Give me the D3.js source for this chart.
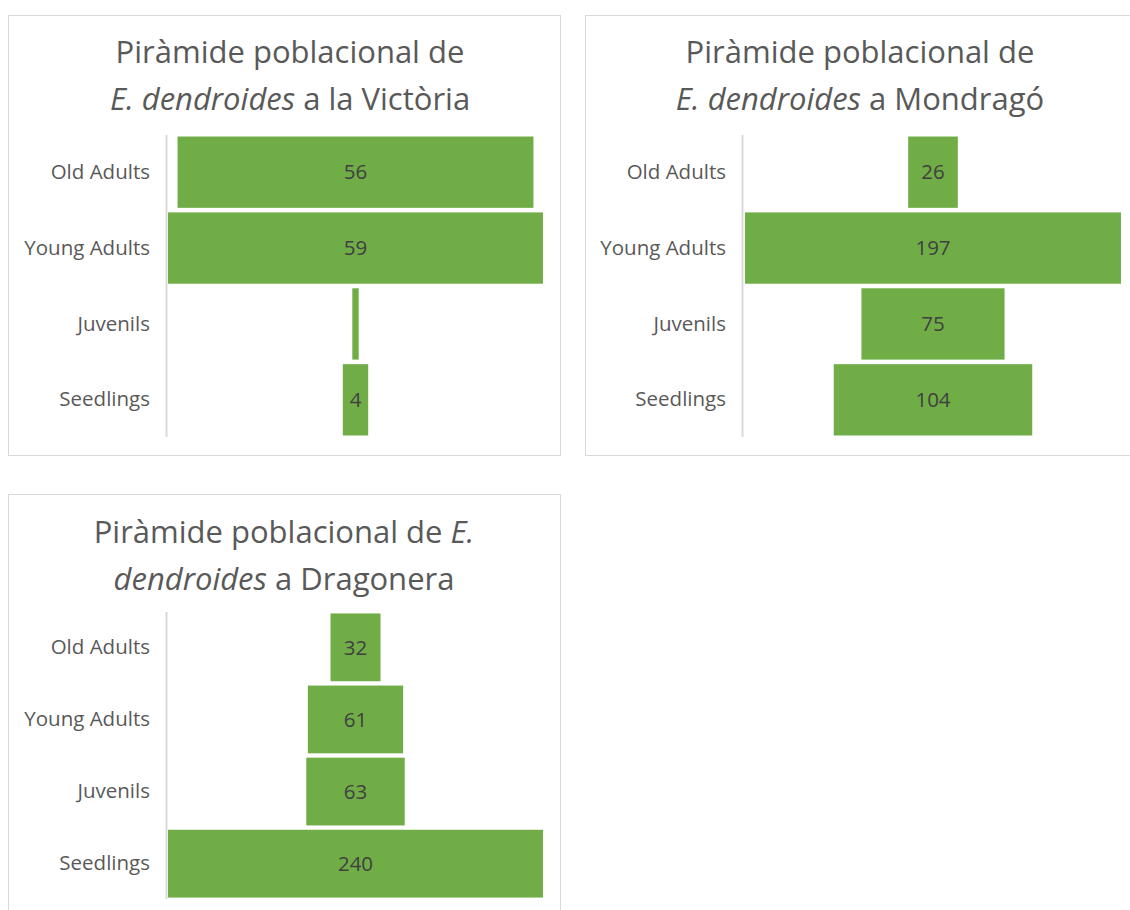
<!DOCTYPE html>
<html>
<head>
<meta charset="utf-8">
<script src="https://cdn.jsdelivr.net/npm/d3@7"></script>
<style>
  body { margin: 0; background: #fff; }
  svg { display: block; }
</style>
</head>
<body>
<div id="chart"></div>
<script>
// age classes, top to bottom
var categories = ["Old Adults", "Young Adults", "Juvenils", "Seedlings"];

// counts per site
var victoriaValues = [56, 59, 1, 4];
var mondragoValues = [26, 197, 75, 104];
var dragoneraValues = [32, 61, 63, 240];

// title lines: [text, italic] pieces per line
var victoriaTitle = [[["Piràmide poblacional de", false]], [["E. dendroides", true], [" a la Victòria", false]]];
var mondragoTitle = [[["Piràmide poblacional de", false]], [["E. dendroides", true], [" a Mondragó", false]]];
var dragoneraTitle = [[["Piràmide poblacional de ", false], ["E.", true]], [["dendroides", true], [" a Dragonera", false]]];

var barColor = "#70ad47";
var textColor = "#595959";
var font = "'Open Sans', sans-serif";

var svg = d3.select("#chart").append("svg")
    .attr("width", 1130)
    .attr("height", 910);

function Panel(box, title, values, plot) {
    var g = svg.append("g");

    g.append("rect")
        .attr("x", box.x + 0.5).attr("y", box.y + 0.5)
        .attr("width", box.w).attr("height", box.h)
        .style("fill", "#fff").style("stroke", "#d9d9d9").style("stroke-width", 1);

    var t = g.append("text")
        .attr("text-anchor", "middle")
        .style("font-family", font)
        .style("font-size", "31px")
        .style("fill", textColor);
    title.forEach(function (line, i) {
        line.forEach(function (piece, j) {
            var ts = t.append("tspan").text(piece[0])
                .style("font-style", piece[1] ? "italic" : "normal");
            if (j == 0) ts.attr("x", plot.titleX).attr("y", plot.titleY + i * 47);
        });
    });

    var rows = values.map(function (v, i) { return {cat: categories[i], value: v}; });

    var max = d3.max(values);
    var x = d3.scaleLinear().domain([-max / 2, max / 2]).range([plot.left, plot.right]);
    var y = d3.scaleBand().domain(categories).range([plot.top, plot.bottom])
        .paddingInner(0.06).paddingOuter(0.02);

    var axis = g.append("g")
        .attr("transform", "translate(" + plot.axisX + ",0)")
        .call(d3.axisLeft(y).tickSize(0).tickPadding(16));
    axis.select(".domain").attr("d", "M0.5," + plot.top + "V" + plot.bottom)
        .style("stroke", "#d9d9d9").style("stroke-width", 2);
    axis.selectAll("text")
        .style("font-family", font)
        .style("font-size", "20.5px")
        .style("fill", textColor);

    g.selectAll(".bar").data(rows).enter().append("rect")
        .attr("class", "bar")
        .attr("x", function (d) { return x(-d.value / 2); })
        .attr("y", function (d) { return y(d.cat); })
        .attr("width", function (d) { return x(d.value / 2) - x(-d.value / 2); })
        .attr("height", y.bandwidth())
        .style("fill", barColor);

    // labels only where the bar is wide enough
    var labelled = rows.filter(function (d) { return x(d.value / 2) - x(-d.value / 2) > 10; });
    g.selectAll(".lbl").data(labelled).enter().append("text")
        .attr("class", "lbl")
        .attr("x", x(0))
        .attr("y", function (d) { return y(d.cat) + y.bandwidth() / 2; })
        .attr("dy", "0.35em")
        .attr("text-anchor", "middle")
        .style("font-family", font)
        .style("font-size", "20.5px")
        .style("fill", "#404040")
        .text(function (d) { return d.value; });
}

Panel({x: 8, y: 15, w: 552, h: 440}, victoriaTitle, victoriaValues,
    {titleX: 290, titleY: 63, axisX: 166, left: 168, right: 543, top: 135, bottom: 437});
Panel({x: 585, y: 15, w: 560, h: 440}, mondragoTitle, mondragoValues,
    {titleX: 860, titleY: 63, axisX: 742, left: 745, right: 1121, top: 135, bottom: 437});
Panel({x: 8, y: 494, w: 552, h: 430}, dragoneraTitle, dragoneraValues,
    {titleX: 284, titleY: 543, axisX: 166, left: 168, right: 543, top: 612, bottom: 899});
</script>
</body>
</html>
